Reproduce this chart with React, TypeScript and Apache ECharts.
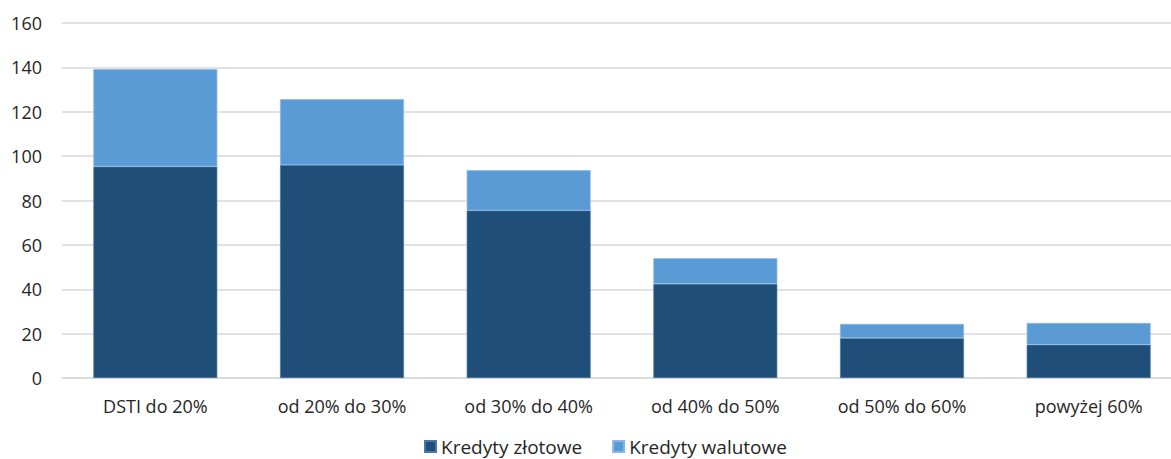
import React, { useEffect, useRef } from "react";
import * as echarts from "echarts";

const categories = ["DSTI do 20%", "od 20% do 30%", "od 30% do 40%", "od 40% do 50%", "od 50% do 60%", "powyżej 60%"];
const seriesNames = ["Kredyty złotowe", "Kredyty walutowe"];
const totalsPLN = [95.3, 96.0, 75.5, 42.4, 18.0, 15.0];
const totalsFX = [43.9, 29.7, 18.2, 11.6, 6.4, 9.8];
const yTicks = { min: 0, max: 160, interval: 20 };

export default function App() {
  const ref = useRef<HTMLDivElement>(null);
  useEffect(() => {
    if (!ref.current) return;
    const chart = echarts.init(ref.current, undefined, { renderer: "svg" });
    const font = "'Open Sans', 'Liberation Sans', sans-serif";
    chart.setOption({
      animation: false,
      textStyle: { fontFamily: font },
      grid: { left: 62, right: 0, top: 23, bottom: 81, containLabel: false },
      legend: {
        top: 437,
        left: 424,
        padding: 0,
        itemWidth: 11,
        itemHeight: 11,
        itemGap: 30,
        icon: "rect",
        textStyle: { fontSize: 19, color: "#262626", fontFamily: font },
        data: seriesNames,
      },
      xAxis: {
        type: "category",
        data: categories,
        axisTick: { show: false },
        axisLine: { lineStyle: { color: "#d9d9d9", width: 1.5 } },
        axisLabel: { fontSize: 18, color: "#262626", margin: 19, fontFamily: font },
      },
      yAxis: {
        type: "value",
        min: yTicks.min,
        max: yTicks.max,
        interval: yTicks.interval,
        axisLine: { show: false },
        axisTick: { show: false },
        splitLine: { lineStyle: { color: "#d9d9d9", width: 1.5 } },
        axisLabel: { fontSize: 18, color: "#262626", margin: 20, fontFamily: font },
      },
      series: [
        {
          name: seriesNames[0],
          type: "bar",
          stack: "a",
          data: totalsPLN,
          barWidth: "66.4%",
          itemStyle: { color: "#1F4E79", borderColor: "#4a78a3", borderWidth: 0.7 },
        },
        {
          name: seriesNames[1],
          type: "bar",
          stack: "a",
          data: totalsFX,
          barWidth: "66.4%",
          itemStyle: { color: "#5B9BD5", borderColor: "#8ab8e3", borderWidth: 0.7 },
        },
      ],
    });
    return () => chart.dispose();
  }, []);
  return (
    <div style={{ width: 1171, height: 459, position: "absolute", left: 0, top: 0, overflow: "hidden" }}>
      <div ref={ref} style={{ width: 1182, height: 459 }} />
    </div>
  );
}
